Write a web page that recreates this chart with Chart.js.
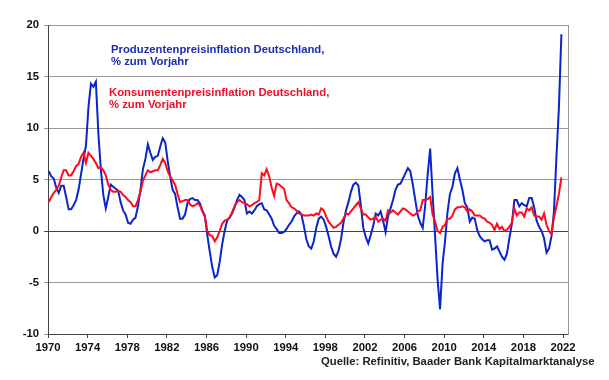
<!DOCTYPE html>
<html><head><meta charset="utf-8">
<script src="https://cdn.jsdelivr.net/npm/chart.js@4.4.0/dist/chart.umd.min.js"></script>
<style>
html,body{margin:0;padding:0;background:#fff;}
#wrap{position:relative;width:609px;height:380px;overflow:hidden;}
canvas{position:absolute;left:0;top:0;}
.note{position:absolute;font-family:"Liberation Sans",Arial,sans-serif;font-weight:bold;font-size:11.3px;line-height:12px;white-space:nowrap;}
</style></head><body>
<div id="wrap">
<canvas id="c" width="609" height="380"></canvas>
<div class="note" style="left:111px;top:43px;color:#1a2db4">Produzentenpreisinflation Deutschland,<br>% zum Vorjahr</div>
<div class="note" style="left:109px;top:86px;color:#ee1026">Konsumentenpreisinflation Deutschland,<br>% zum Vorjahr</div>
<div class="note" style="left:321px;top:355px;color:#222">Quelle: Refinitiv, Baader Bank Kapitalmarktanalyse</div>
</div>
<script>
// quarterly samples (Feb, May, Aug, Nov), 1970 - Nov 2021, % y/y
const startYear = 1970;
const firstMonth = 1;      // February
const monthStep = 3;
const tickYears = [1970,1974,1978,1982,1986,1990,1994,1998,2002,2006,2010,2014,2018,2022];
const yTicks = [-10,-5,0,5,10,15,20];

const ppi = [
 5.8, 5.3, 5.1, 4.2,   3.7, 4.4, 4.4, 3.3,   2.1, 2.1, 2.5, 3.0,   4.0, 5.5, 7.0, 8.3,
 12.0, 14.3, 14.0, 14.5, 9.5, 6.0, 3.5, 2.2,  3.3, 4.5, 4.3, 4.1,   3.9, 2.8, 2.0, 1.6,
 0.8, 0.7, 1.1, 1.3,   2.4, 4.0, 6.0, 7.0,   8.4, 7.6, 6.9, 7.2,   7.3, 8.2, 9.0, 8.6,
 6.8, 5.3, 4.0, 3.6,   2.3, 1.2, 1.2, 1.6,   2.7, 3.1, 3.2, 3.0,   3.0, 2.7, 2.0, 1.5,
 -0.4, -2.0, -3.5, -4.5, -4.3, -3.0, -1.3, 0.0, 1.0, 1.3, 1.7, 2.3, 3.0, 3.5, 3.3, 3.0,
 1.7, 1.9, 1.7, 2.0,   2.4, 2.6, 2.7, 2.1,   2.0, 1.6, 1.2, 0.5,   0.2, -0.2, -0.2, -0.1,
 0.2, 0.6, 0.9, 1.4,   1.7, 1.9, 1.6, 0.5,   -0.8, -1.5, -1.7, -1.0, 0.3, 1.2, 1.4, 1.1,
 0.4, -0.5, -1.5, -2.2, -2.5, -1.9, -0.8, 0.8, 2.0, 2.8, 3.8, 4.5,  4.7, 4.4, 2.5, 0.3,
 -0.6, -1.2, -0.4, 0.5, 1.7, 1.5, 1.9, 1.0,  -0.1, 1.4, 2.2, 3.0,  4.0, 4.5, 4.6, 5.1,
 5.6, 6.1, 5.8, 4.5,   3.0, 1.5, 0.8, 0.3,   2.5, 5.5, 8.0, 3.5,   -0.5, -4.7, -7.6, -3.2,
 -1.0, 1.8, 3.6, 4.3,  5.6, 6.1, 5.0, 4.0,   2.7, 2.3, 0.9, 1.3,   1.2, 0.1, -0.5, -0.8,
 -1.0, -0.9, -0.9, -1.8, -1.7, -1.5, -2.0, -2.5, -2.8, -2.2, -0.7, 0.7, 3.0, 3.0, 2.4, 2.7,
 2.5, 2.4, 3.2, 3.2,   2.3, 1.0, 0.4, 0.0,   -0.7, -2.1, -1.7, -0.5, 1.9, 7.2, 12.0, 19.1
];

const cpi = [
 2.8, 3.3, 3.7, 4.0,   4.4, 5.2, 5.9, 5.9,   5.4, 5.4, 5.8, 6.3,   6.5, 7.2, 7.6, 6.6,
 7.6, 7.3, 7.0, 6.6,   6.1, 6.2, 5.9, 5.4,   4.5, 4.0, 3.8, 3.8,   3.9, 3.8, 3.5, 3.3,
 3.0, 2.8, 2.4, 2.4,   3.0, 3.8, 4.9, 5.4,   5.9, 5.7, 5.8, 5.9,   5.9, 6.4, 7.0, 6.6,
 5.8, 5.3, 4.9, 4.5,   3.6, 2.8, 2.9, 3.0,   3.0, 2.6, 2.4, 2.5,   2.7, 2.5, 1.9, 1.4,
 0.0, -0.4, -0.5, -1.0, -0.6, 0.0, 0.7, 1.0, 1.1, 1.3, 1.8, 2.4,   2.8, 3.0, 2.8, 2.7,
 2.6, 2.4, 2.5, 2.7,   2.8, 3.0, 5.6, 5.4,   6.0, 5.3, 4.2, 3.4,   4.6, 4.5, 4.3, 4.1,
 3.0, 2.7, 2.3, 2.2,   2.0, 1.7, 1.6, 1.5,   1.5, 1.5, 1.6, 1.5,   1.7, 1.6, 2.2, 2.0,
 1.4, 0.9, 0.6, 0.3,   0.4, 0.6, 0.8, 1.2,   1.7, 1.6, 1.9, 2.2,   2.5, 2.8, 2.2, 1.6,
 1.6, 1.3, 1.1, 1.2,   1.4, 0.9, 1.1, 1.2,   1.0, 2.0, 1.8, 2.0,   1.8, 1.6, 1.9, 2.2,
 2.1, 1.9, 1.7, 1.5,   1.6, 1.9, 2.0, 3.0,   3.0, 3.1, 3.3, 1.6,   0.9, 0.0, -0.2, 0.4,
 0.6, 1.2, 1.2, 1.5,   2.1, 2.3, 2.3, 2.4,   2.3, 1.9, 2.1, 1.9,   1.5, 1.5, 1.5, 1.3,
 1.2, 0.9, 0.8, 0.6,   0.1, 0.7, 0.2, 0.4,   0.0, 0.1, 0.4, 0.8,   2.2, 1.5, 1.8, 1.8,
 1.4, 2.2, 2.0, 2.3,   1.5, 1.4, 1.4, 1.1,   1.7, 0.6, 0.0, -0.3,  1.3, 2.4, 3.6, 5.2
];

const toPoints = arr => arr.map((v, i) => ({x: startYear + (firstMonth + i * monthStep) / 12, y: v}));
const tickFont = {family: '"Liberation Sans", Arial, sans-serif', weight: 'bold', size: 11.3};

new Chart(document.getElementById('c'), {
  type: 'line',
  data: {
    datasets: [
      {label: 'Konsumentenpreisinflation', data: toPoints(cpi), borderColor: '#ff0a1e', borderWidth: 2, pointRadius: 0, tension: 0, order: 0},
      {label: 'Produzentenpreisinflation', data: toPoints(ppi), borderColor: '#0a26c8', borderWidth: 2, pointRadius: 0, tension: 0, order: 1}
    ]
  },
  options: {
    responsive: false,
    animation: false,
    devicePixelRatio: 1,
    layout: {padding: {left: 0, top: 25, right: 41, bottom: 0}},
    plugins: {legend: {display: false}, tooltip: {enabled: false}},
    scales: {
      x: {
        type: 'linear', min: 1970, max: 2022.5,
        afterBuildTicks: s => { s.ticks = tickYears.map(v => ({value: v})); },
        afterFit: s => { s.height = 46; },
        grid: {drawOnChartArea: false, drawTicks: true, tickLength: 4, color: '#444'},
        border: {color: '#444', width: 1},
        ticks: {font: tickFont, color: '#111', padding: 3, maxRotation: 0, autoSkip: false, callback: v => String(v)}
      },
      y: {
        min: -10, max: 20,
        afterBuildTicks: s => { s.ticks = yTicks.map(v => ({value: v})); },
        afterFit: s => { s.width = 48; },
        grid: {color: c => (c.tick && c.tick.value === 0) ? '#444' : '#999', tickLength: 4, drawTicks: true},
        border: {color: '#444', width: 1},
        ticks: {font: tickFont, color: '#111', padding: 5, callback: v => String(v)}
      },
      y2: {
        position: 'right', min: -10, max: 20,
        afterFit: s => { s.width = 0; },
        grid: {drawOnChartArea: false, drawTicks: false},
        border: {color: '#999', width: 1},
        ticks: {display: false}
      }
    }
  }
});
</script>
</body></html>
